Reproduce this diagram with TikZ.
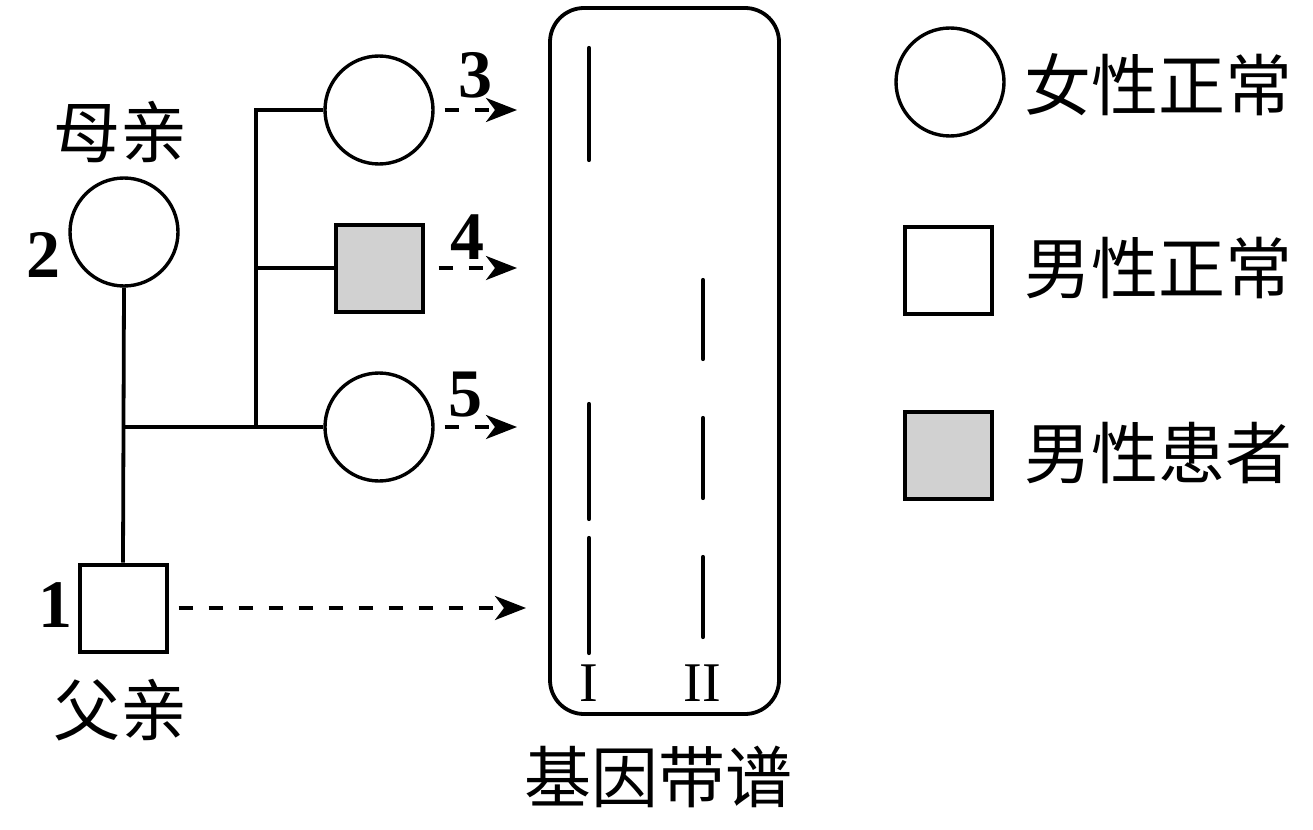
\documentclass[tikz,border=0pt]{standalone}
\usepackage{fontspec}
\setmainfont{Liberation Serif}
\newfontfamily\cjk{Noto Sans CJK SC}
\usetikzlibrary{arrows.meta}
\tikzset{
  person/.style={draw, line width=3.4pt, inner sep=0pt},
  female/.style={person, circle, minimum size=108pt},
  male/.style={person, rectangle, line width=4pt, minimum size=87pt},
  ill/.style={fill=black!18},
  link/.style={line width=3.8pt},
  arr/.style={line width=3.6pt, dash pattern=on 14pt off 16pt, -{Stealth[length=31pt, width=24pt, inset=9pt]}},
  band/.style={line width=4.2pt, line cap=round},
  cjklabel/.style={font=\cjk\fontsize{67}{67}\selectfont, inner sep=0pt},
  num/.style={font=\bfseries\fontsize{68}{68}\selectfont, inner sep=0pt},
  lane/.style={font=\fontsize{56}{56}\selectfont, inner sep=0pt}
}
\begin{document}
\begin{tikzpicture}[x=1pt, y=-1pt]
\useasboundingbox (0,0) rectangle (1313,829);
% pedigree
\node[female] (mother) at (124,232) {};
\node[male] (father) at (123,608) {};
\node[female] (c3) at (379,110) {};
\node[male, ill] (s4) at (379,268) {};
\node[female] (c5) at (379,427) {};
\coordinate (j) at (124,427);
\coordinate (k) at (256,427);
\draw[link] (mother.south) -- (father.north);
\draw[link] (j) -- (c5.west);
\draw[link] (c3.west) -| (k);
\draw[link] (s4.west) -- (s4.west -| k);
% labels
\node[cjklabel] (lm) at (120,132) {母亲};
\node[cjklabel] (lf) at (120,710) {父亲};
\node[num] (n2) at (43,255) {2};
\node[num] (n1) at (55,605) {1};
\node[num] (n3) at (475,75) {3};
\node[num] (n4) at (467,237) {4};
\node[num] (n5) at (465,395) {5};
% gel
\node[draw, line width=3.8pt, rounded corners=34pt, minimum width=229pt, minimum height=706pt, inner sep=0pt] (gel) at (664.5,361) {};
\coordinate (tgt) at (517,0);
\coordinate (tgtf) at (526,0);
\draw[arr] ([xshift=10pt]c3.east) -- (c3.east -| tgt);
\draw[arr] ([xshift=14pt]s4.east) -- (s4.east -| tgt);
\draw[arr] ([xshift=10pt]c5.east) -- (c5.east -| tgt);
\draw[arr] ([xshift=10pt]father.east) -- (father.east -| tgtf);
% bands
\draw[band] (589,48) -- (589,160);
\draw[band] (589,404) -- (589,519);
\draw[band] (589,538) -- (589,653);
\draw[band] (703,280) -- (703,359);
\draw[band] (703,418) -- (703,498);
\draw[band] (703,557) -- (703,637);
\node[lane] (l1) at (589,683) {I};
\node[lane] (l2) at (702,683) {II};
\node[cjklabel] (lg) at (658,777) {基因带谱};
% legend
\node[female] (k1) at (950,82) {};
\node[male] (k2) at (948,270) {};
\node[male, ill] (k3) at (948,455) {};
\node[cjklabel, anchor=west] (t1) at (1024,85) {女性正常};
\node[cjklabel, anchor=west] (t2) at (1024,268) {男性正常};
\node[cjklabel, anchor=west] (t3) at (1024,453) {男性患者};
\end{tikzpicture}
\end{document}
